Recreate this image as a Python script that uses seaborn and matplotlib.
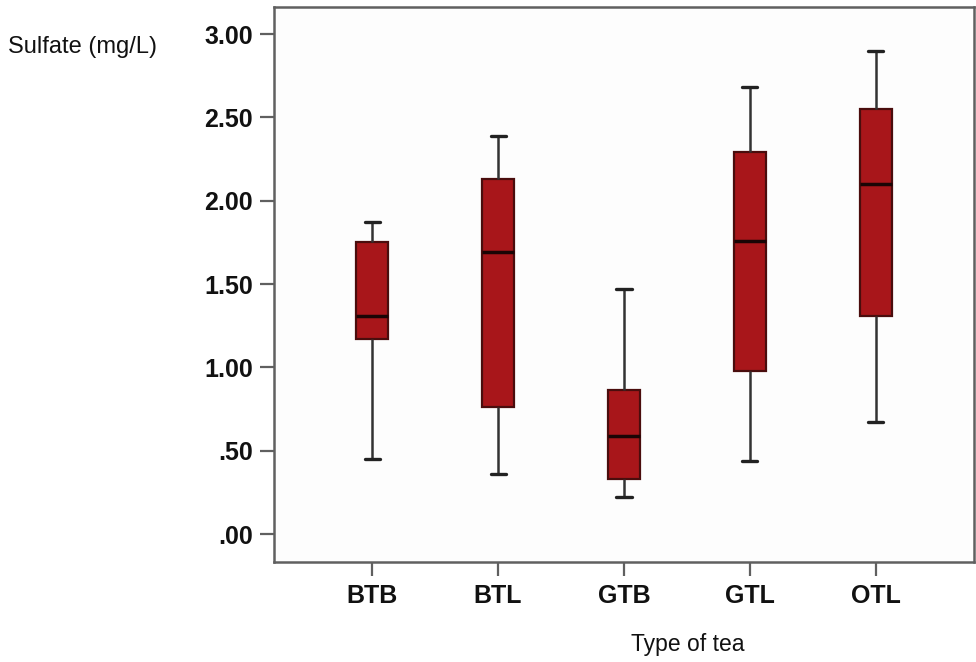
import numpy as np
import pandas as pd
import matplotlib
matplotlib.use("Agg")
import matplotlib.pyplot as plt
import seaborn as sns

# Data (five-number summaries per tea type)
categories = ["BTB", "BTL", "GTB", "GTL", "OTL"]
whisker_low = [0.45, 0.36, 0.22, 0.44, 0.67]
q1 = [1.17, 0.76, 0.33, 0.98, 1.31]
median = [1.31, 1.69, 0.59, 1.76, 2.10]
q3 = [1.75, 2.13, 0.865, 2.29, 2.55]
whisker_high = [1.87, 2.39, 1.47, 2.68, 2.90]
ytick_values = [0.0, 0.5, 1.0, 1.5, 2.0, 2.5, 3.0]
ytick_labels = [".00", ".50", "1.00", "1.50", "2.00", "2.50", "3.00"]

rows = []
for c, a, b, m, d, e in zip(categories, whisker_low, q1, median, q3, whisker_high):
    for v in (a, b, m, d, e):
        rows.append({"Type of tea": c, "Sulfate": v})
df = pd.DataFrame(rows)

sns.set_theme(style="white")
plt.rcParams["font.family"] = ["Liberation Sans", "DejaVu Sans"]

fig = plt.figure(figsize=(9.76, 6.62), dpi=100)
ax = fig.add_axes([274 / 976, 1 - 562 / 662, 700 / 976, 555 / 662])

spine_col = "#606060"
sns.boxplot(
    data=df, x="Type of tea", y="Sulfate", order=categories,
    whis=(0, 100), width=0.25, color="#A8161A", saturation=1,
    linecolor="#4a0d0d", linewidth=1.6, ax=ax,
    capwidths=0.12,
    medianprops={"color": "#1a0505", "linewidth": 2.5},
    whiskerprops={"color": "#333333", "linewidth": 1.8},
    capprops={"color": "#222222", "linewidth": 2.4},
)

ax.set_xlim(-0.78, 4.78)
ax.set_ylim(-0.168, 3.162)
ax.set_yticks(ytick_values)
ax.set_yticklabels(ytick_labels)
ax.set_xlabel("")
ax.set_ylabel("")
ax.set_facecolor("#fdfdfd")

for s in ax.spines.values():
    s.set_visible(True)
    s.set_color(spine_col)
    s.set_linewidth(1.8)

ax.tick_params(axis="both", which="major", direction="out", length=10,
               width=1.6, color=spine_col, labelsize=18, labelcolor="#111111",
               left=True, bottom=True)
ax.tick_params(axis="y", pad=5)
ax.tick_params(axis="x", pad=6)
for lab in ax.get_xticklabels() + ax.get_yticklabels():
    lab.set_fontweight("bold")

fig.text(8 / 976, 1 - 47 / 662, "Sulfate (mg/L)", fontsize=17,
         ha="left", va="center", color="#111111")
fig.text(688 / 976, 1 - 645 / 662, "Type of tea", fontsize=16.5,
         ha="center", va="center", color="#111111")

fig.savefig("out.png", dpi=100)
